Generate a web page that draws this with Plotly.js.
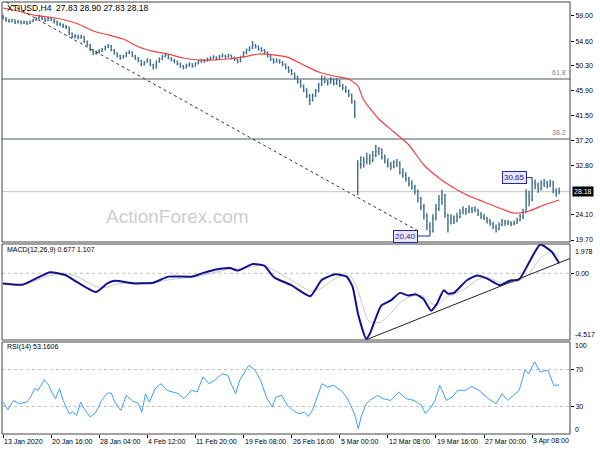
<!DOCTYPE html>
<html>
<head>
<meta charset="utf-8">
<script src="https://cdn.plot.ly/plotly-3.0.1.min.js"></script>
<style>html,body{margin:0;padding:0;background:#fff;}#chart{width:600px;height:450px;}</style>
</head>
<body>
<div id="chart"></div>
<script>
// ---------- DATA ----------
const symbolTitle = "XTIUSD,H4  27.83 28.90 27.83 28.18";
const dateIdx = [0,16,32,48,64,80,96,112,128,144,160,176];
const dateLabels = ["13 Jan 2020","20 Jan 16:00","28 Jan 04:00","4 Feb 12:00","11 Feb 20:00","19 Feb 08:00","26 Feb 16:00","5 Mar 00:00","12 Mar 08:00","19 Mar 16:00","27 Mar 00:00","3 Apr 08:00"];

const openP = [58.9,58.6,58.2,58.0,58.3,57.9,58.1,57.8,58.0,57.7,
58.0,58.3,58.6,58.9,58.5,58.2,58.6,58.4,58.0,57.6,
57.5,57.2,57.0,55.9,55.4,55.5,55.2,55.4,54.5,54.0,
53.0,52.4,52.6,52.9,53.1,53.6,53.8,53.0,52.5,52.0,
51.6,51.9,52.5,52.7,52.0,51.6,51.2,50.5,50.9,51.3,
50.4,49.9,51.0,51.4,51.9,52.1,51.6,51.3,51.0,50.6,
50.2,49.9,50.3,50.6,50.2,50.7,51.0,51.2,51.1,51.4,
51.6,51.8,51.5,51.9,52.0,51.8,52.1,51.7,51.4,51.0,
51.8,52.5,53.0,53.4,53.9,53.6,53.2,53.0,52.6,52.0,
51.4,51.0,51.2,50.9,50.5,50.0,49.4,48.9,48.2,47.5,
46.8,46.0,45.0,44.2,45.0,45.8,46.9,48.0,47.6,47.3,
47.8,47.1,47.6,46.8,46.4,45.9,45.2,44.0,31.2,33.0,
33.0,33.5,34.0,33.6,34.5,35.2,35.6,34.2,33.5,33.0,
32.6,33.3,33.4,31.5,31.0,30.4,29.6,29.0,28.2,27.0,
25.5,24.0,22.0,21.2,23.5,25.2,26.8,27.5,24.0,22.8,
23.5,23.0,23.8,24.5,25.0,24.6,25.2,24.9,25.0,24.2,
23.8,23.5,23.0,22.6,22.0,21.6,22.4,23.0,22.6,22.8,
22.5,22.7,23.2,23.8,24.6,27.5,26.8,29.8,29.3,28.6,
29.6,29.8,29.2,29.9,28.4,27.83];
const highP = [59.2,58.8,58.5,58.5,58.4,58.3,58.2,58.2,58.1,58.2,
58.5,58.8,59.2,59.0,58.7,58.9,58.8,58.5,58.2,57.9,
57.7,57.4,57.1,56.1,55.8,55.7,55.7,55.5,54.7,54.1,
53.2,52.9,53.2,53.4,53.8,54.1,53.9,53.2,52.6,52.2,
52.2,52.7,53.0,52.8,52.2,51.8,51.3,51.1,51.6,51.4,
50.6,51.2,51.7,52.2,52.4,52.2,51.8,51.5,51.2,50.8,
50.4,50.6,50.9,50.7,50.9,51.3,51.5,51.4,51.7,51.9,
52.1,51.9,52.2,52.4,52.2,52.4,52.2,51.9,51.5,52.0,
52.8,53.3,53.7,54.6,54.1,53.8,53.5,53.2,52.8,52.2,
51.6,51.6,51.4,51.1,50.7,50.2,49.7,49.1,48.5,47.8,
47.0,46.3,45.3,45.4,46.2,47.3,48.6,48.4,47.8,48.3,
48.0,48.1,47.8,47.1,46.7,46.1,45.4,44.2,33.7,34.4,
34.3,35.0,34.8,35.3,36.4,36.0,35.8,34.7,34.0,33.4,
33.7,33.9,33.5,32.3,31.6,30.8,30.2,29.4,28.5,27.3,
26.0,24.4,22.8,24.2,26.0,27.6,28.5,27.8,24.3,24.2,
24.0,24.5,25.1,25.6,25.3,25.8,25.5,25.6,25.2,24.6,
24.3,23.8,23.4,22.9,22.4,22.8,23.4,23.2,23.2,23.0,
23.1,23.6,24.3,25.2,28.6,28.4,30.65,30.3,29.8,30.2,
30.4,30.1,30.3,30.1,28.8,28.90];
const lowP = [58.4,58.0,57.8,57.9,57.6,57.7,57.5,57.6,57.4,57.6,
57.9,58.1,58.4,58.3,57.9,58.1,58.1,57.7,57.3,57.2,
56.9,56.7,55.6,55.1,55.1,54.9,55.0,54.2,53.7,52.8,
52.1,52.2,52.4,52.7,53.0,53.4,52.8,52.2,51.7,51.3,
51.5,51.8,52.3,51.8,51.3,50.9,50.2,50.3,50.8,50.2,
49.6,49.8,50.8,51.3,51.7,51.4,51.0,50.7,50.3,49.9,
49.6,49.8,50.1,49.9,50.1,50.5,50.8,50.8,51.0,51.2,
51.4,51.2,51.4,51.7,51.5,51.7,51.4,51.1,50.7,50.9,
51.7,52.3,52.8,53.2,53.3,52.9,52.7,52.3,51.7,51.1,
50.6,50.8,50.6,50.2,49.6,49.0,48.6,47.9,47.1,46.4,
45.6,44.6,43.4,44.0,44.8,45.6,46.7,47.2,46.8,47.1,
46.8,46.9,46.5,46.0,45.5,44.8,43.6,41.1,27.6,32.2,
32.4,33.0,32.9,33.4,34.2,34.6,33.8,33.1,32.4,32.0,
32.3,32.5,31.2,30.6,29.9,29.1,28.5,27.7,26.3,24.9,
23.3,21.4,20.4,21.0,23.1,24.8,25.9,23.6,21.0,22.4,
22.5,22.8,23.5,24.2,24.1,24.4,24.4,24.6,23.9,23.4,
23.2,22.6,22.2,21.6,21.0,21.4,22.1,22.2,22.3,22.1,
22.3,22.5,23.0,23.4,24.4,25.6,26.5,28.6,28.0,28.4,
29.0,28.8,29.0,27.9,27.3,27.83];
const closeP = [58.6,58.2,58.0,58.3,57.9,58.1,57.8,58.0,57.7,58.0,
58.3,58.6,58.9,58.5,58.2,58.6,58.4,58.0,57.6,57.5,
57.2,57.0,55.9,55.4,55.5,55.2,55.4,54.5,54.0,53.0,
52.4,52.6,52.9,53.1,53.6,53.8,53.0,52.5,52.0,51.6,
51.9,52.5,52.7,52.0,51.6,51.2,50.5,50.9,51.3,50.4,
49.9,51.0,51.4,51.9,52.1,51.6,51.3,51.0,50.6,50.2,
49.9,50.3,50.6,50.2,50.7,51.0,51.2,51.1,51.4,51.6,
51.8,51.5,51.9,52.0,51.8,52.1,51.7,51.4,51.0,51.8,
52.5,53.0,53.4,53.9,53.6,53.2,53.0,52.6,52.0,51.4,
51.0,51.2,50.9,50.5,50.0,49.4,48.9,48.2,47.5,46.8,
46.0,45.0,44.2,45.0,45.8,46.9,48.0,47.6,47.3,47.8,
47.1,47.6,46.8,46.4,45.9,45.2,44.0,41.6,33.0,33.0,
33.5,34.0,33.6,34.5,35.2,35.6,34.2,33.5,33.0,32.6,
33.3,33.4,31.5,31.0,30.4,29.6,29.0,28.2,27.0,25.5,
24.0,22.0,21.2,23.5,25.2,26.8,27.5,24.0,22.8,23.5,
23.0,23.8,24.5,25.0,24.6,25.2,24.9,25.0,24.2,23.8,
23.5,23.0,22.6,22.0,21.6,22.4,23.0,22.6,22.8,22.5,
22.7,23.2,23.8,24.6,27.5,26.8,29.8,29.3,28.6,29.6,
29.8,29.2,29.9,28.4,27.9,28.18];

const maIdx = [0,5,10,15,20,25,30,35,40,45,50,55,60,65,70,75,80,85,90,95,100,105,110,115,118,120,125,130,135,140,145,150,155,160,165,170,175,180,185];
const maVal = [60.4,59.87,59.17,58.82,58.38,57.6,56.37,55.67,54.96,53.6,52.8,52.3,51.63,51.28,51.28,51.45,51.8,52.33,52.16,51.7,50.4,49.17,48.47,47.95,46.72,44.26,40.93,38.65,36.37,32.86,30.58,28.82,27.42,26.37,25.31,24.44,24.79,25.84,26.72];

const lastPrice = 28.18;
const fibNames = ["61.8","38.2"];
const fibPrices = [47.94,37.42];
const trendX = [1.1,138.7];
const trendY = [61.45,21.1];

const macdIdx = [0,6.7,15.6,20.7,24.5,30.9,34.7,37.2,43.6,50,55,62.7,65.3,70.4,75.5,78,83.1,86.9,90.2,95.9,102.2,106,110.5,114.3,116.3,118.1,120.8,122,125.8,129,132,134.7,137.3,139.8,142.4,144.3,146.6,148,150,154.4,157.7,160.9,165.3,168.5,171.7,174.9,178.7,182.5,185];
const macdVal = [-0.69,-0.76,0.07,-0.12,-0.58,-1.27,-0.69,-0.51,-0.69,-0.64,-0.23,-0.23,-0.07,0.23,0.35,0.18,0.62,0.51,-0.28,-0.81,-1.56,-0.46,-0.07,-0.23,-0.92,-2.76,-4.45,-4.1,-2.19,-1.84,-1.33,-1.5,-1.43,-1.73,-2.53,-2.07,-1.15,-1.38,-1.33,-0.46,-0.16,-0.35,-0.81,-0.51,-0.41,0.69,1.95,1.45,0.677];
const sigVal = [-0.75,-0.78,-0.15,0.0,-0.2,-0.9,-0.95,-0.75,-0.62,-0.65,-0.45,-0.27,-0.2,0.05,0.28,0.3,0.45,0.55,0.2,-0.45,-1.2,-1.0,-0.35,-0.15,-0.35,-1.2,-2.9,-3.3,-3.3,-2.7,-2.0,-1.65,-1.5,-1.55,-2.0,-2.2,-1.75,-1.55,-1.45,-0.95,-0.45,-0.3,-0.6,-0.65,-0.5,-0.05,1.0,1.5,1.107];
const macdTrendX = [120.8,188.6];
const macdTrendY = [-4.5,1.0];
const macdMax = 1.978, macdMin = -4.517;

const rsiIdx = [0,1.6,3.5,5.4,7.9,9.2,10.5,11.7,13.7,14.9,16.2,17.5,18.8,20,22,23.2,24.5,25.8,27,29,30.9,32.8,34.7,36,37.2,39.2,41,43,44.9,46.2,47.4,48.7,50.6,52.6,54.5,56.4,58.3,60.2,62.7,64.6,66.5,68.5,70.4,72.9,74.8,76.1,77.4,78.7,81.8,83.8,85.7,87.6,89.5,90.8,92.7,94.6,96.5,98.4,100.3,101.6,102.9,104.1,106.1,108,109.9,112.4,114.3,115.6,116.9,118.2,119.1,120.8,122,124.6,126.4,129,131.6,134.1,136.7,139.2,140.5,142.4,143.7,145.3,147.5,149.4,151.3,153.9,155.8,158.3,161.5,164,166,167.9,169.8,171.7,173.6,174.9,176.8,178.7,181.3,183.2,185];
const rsiVal = [34.7,26.4,36.5,32.9,34.7,40.2,49.3,47.5,59.1,54.7,45.6,38.4,49.3,36.5,22,23.8,20.2,34.7,27.5,18.4,23.8,36.5,44.5,44.5,34.7,25.6,42,35.8,33.6,23.8,43.8,34.7,49.3,54.7,47.5,45.6,43.8,38.4,47.5,45.6,62,54.7,58.4,65.6,63.8,52.9,43.8,58.4,74.7,69.3,58.4,40.2,29.3,40.2,42,31.1,25.6,22,23.8,19.1,25.6,36.5,54.7,51.1,52.9,47.5,40.2,31.1,22,5.6,18.4,32.9,36.5,42,38.4,36.5,45.6,38.4,36.5,31.1,22,29.3,36.5,52.9,36.5,40.2,47.5,47.5,51.8,47.5,38.4,32.9,43.8,36.5,42,47.5,69.3,65.6,78.4,67.5,69.3,52.9,53.16];
const rsiLevels = [70,30];

// ---------- BUILD ----------
const barIdx = closeP.map((_, i) => i);
const FONT = "Liberation Sans, Arial, sans-serif";
const W = 600, H = 450;
const px = v => v / W, py = v => 1 - v / H;

let lowI = 0; lowP.forEach((v, i) => { if (v < lowP[lowI]) lowI = i; });
let hiI = 150; for (let i = 150; i < highP.length; i++) if (highP[i] > highP[hiI]) hiI = i;

const barColor = '#3e6f8e';
const traces = [
  {type:'ohlc', x:barIdx, open:openP, high:highP, low:lowP, close:closeP,
   xaxis:'x', yaxis:'y', tickwidth:0.3,
   increasing:{line:{color:barColor, width:1.4}}, decreasing:{line:{color:barColor, width:1.4}},
   hoverinfo:'skip'},
  {type:'scatter', mode:'lines', x:maIdx, y:maVal, xaxis:'x', yaxis:'y',
   line:{color:'#f04040', width:1.2, shape:'spline', smoothing:0.6}, hoverinfo:'skip'},
  {type:'scatter', mode:'lines', x:trendX, y:trendY, xaxis:'x', yaxis:'y',
   line:{color:'#333', width:1, dash:'3px,3px'}, hoverinfo:'skip'},
  {type:'scatter', mode:'lines', x:macdIdx, y:sigVal, xaxis:'x', yaxis:'y2',
   line:{color:'#c8c8c8', width:1, shape:'spline', smoothing:0.5}, hoverinfo:'skip'},
  {type:'scatter', mode:'lines', x:macdIdx, y:macdVal, xaxis:'x', yaxis:'y2',
   line:{color:'#12128c', width:2, shape:'spline', smoothing:0.5}, hoverinfo:'skip'},
  {type:'scatter', mode:'lines', x:macdTrendX, y:macdTrendY, xaxis:'x', yaxis:'y2',
   line:{color:'#222', width:1}, hoverinfo:'skip'},
  {type:'scatter', mode:'lines', x:rsiIdx, y:rsiVal, xaxis:'x', yaxis:'y3',
   line:{color:'#3d9cff', width:1}, hoverinfo:'skip'}
];

const mainTicks = [59.0,54.6,50.3,45.9,41.5,37.2,32.8,24.1,19.7];
const tickFont = {family:FONT, size:7, color:'#000'};

const shapes = [];
[[2,242],[244,340],[342,434]].forEach(([t,b]) => {
  shapes.push({type:'rect', xref:'paper', yref:'paper', x0:px(2), x1:px(570), y0:py(b), y1:py(t),
    line:{color:'#444', width:1}, layer:'above'});
});
shapes.push({type:'line', xref:'paper', yref:'y', x0:px(2), x1:px(570), y0:lastPrice, y1:lastPrice,
  line:{color:'#c4c4c4', width:1}, layer:'below'});
fibPrices.forEach(p => shapes.push({type:'line', xref:'paper', yref:'y', x0:px(2), x1:px(570), y0:p, y1:p,
  line:{color:'#a3abb0', width:2}, layer:'below'}));
shapes.push({type:'line', xref:'paper', yref:'y2', x0:px(2), x1:px(570), y0:0, y1:0,
  line:{color:'#bdbdbd', width:1, dash:'3px,3px'}, layer:'below'});
rsiLevels.forEach(l => shapes.push({type:'line', xref:'paper', yref:'y3', x0:px(2), x1:px(570), y0:l, y1:l,
  line:{color:'#bdbdbd', width:1, dash:'3px,3px'}, layer:'below'}));

const ann = [];
ann.push({text:symbolTitle, xref:'paper', yref:'paper', x:px(5), y:py(8), xanchor:'left', yanchor:'middle',
  showarrow:false, font:{family:FONT, size:8.5, color:'#000'}});
ann.push({text:'ActionForex.com', xref:'paper', yref:'paper', x:px(177), y:py(216), xanchor:'center', yanchor:'middle',
  showarrow:false, font:{family:FONT, size:19, color:'#cdcdcd'}});
fibNames.forEach((n, k) => ann.push({text:n, xref:'paper', yref:'y', x:px(568), y:fibPrices[k], xanchor:'right', yanchor:'bottom',
  yshift:1, showarrow:false, font:{family:FONT, size:7, color:'#7a858b'}}));
ann.push({text:lastPrice.toFixed(2), xref:'paper', yref:'y', x:px(572), y:lastPrice, xanchor:'left', yanchor:'middle',
  showarrow:false, bgcolor:'#000', borderpad:1, font:{family:FONT, size:7, color:'#fff'}});
ann.push({text:lowP[lowI].toFixed(2), xref:'x', yref:'y', x:lowI, y:lowP[lowI], ax:-24, ay:0,
  showarrow:true, arrowhead:0, arrowwidth:1, arrowcolor:'#2a2aa0', bordercolor:'#2a2aa0', borderwidth:1, borderpad:1,
  bgcolor:'#e6e6fa', font:{family:FONT, size:8, color:'#1c1c8c'}});
ann.push({text:highP[hiI].toFixed(2), xref:'x', yref:'y', x:hiI, y:highP[hiI], ax:-18, ay:0,
  showarrow:true, arrowhead:0, arrowwidth:1, arrowcolor:'#2a2aa0', bordercolor:'#2a2aa0', borderwidth:1, borderpad:1,
  bgcolor:'#e6e6fa', font:{family:FONT, size:8, color:'#1c1c8c'}});
ann.push({text:'MACD(12,26,9) ' + macdVal[macdVal.length-1].toFixed(3) + ' ' + sigVal[sigVal.length-1].toFixed(3),
  xref:'paper', yref:'paper', x:px(5), y:py(250), xanchor:'left', yanchor:'middle', showarrow:false,
  font:{family:FONT, size:7, color:'#000'}});
ann.push({text:'RSI(14) 53.1606', xref:'paper', yref:'paper', x:px(5), y:py(347), xanchor:'left', yanchor:'middle', showarrow:false,
  font:{family:FONT, size:7, color:'#000'}});
[[macdMax.toFixed(3),251],[macdMin.toFixed(3),334],['100',345],['0',429]].forEach(([t,y]) =>
  ann.push({text:t, xref:'paper', yref:'paper', x:px(573), y:py(y), xanchor:'left', yanchor:'middle', showarrow:false,
    font:tickFont}));
dateIdx.forEach((d, k) => ann.push({text:dateLabels[k], xref:'x', yref:'paper', x:d, y:py(441), xanchor:'left', yanchor:'middle',
  xshift:-1, showarrow:false, font:tickFont}));

const yCommon = {side:'right', anchor:'x', showgrid:false, zeroline:false, showline:false,
  ticks:'outside', ticklen:3, tickcolor:'#000', tickfont:tickFont, fixedrange:true};

const layout = {
  width:W, height:H, margin:{l:0, r:0, t:0, b:0}, paper_bgcolor:'#fff', plot_bgcolor:'#fff',
  showlegend:false, dragmode:false,
  xaxis:{domain:[px(2), px(570)], range:[-0.333, 188.6], anchor:'y3', tickvals:dateIdx, ticktext:dateIdx.map(() => ''),
    ticks:'outside', ticklen:3, tickcolor:'#000', tickfont:tickFont,
    showgrid:false, zeroline:false, showline:false, rangeslider:{visible:false}, fixedrange:true},
  yaxis:Object.assign({}, yCommon, {domain:[py(242), py(2)], range:[19.35, 61.45],
    tickvals:mainTicks, ticktext:mainTicks.map(v => v.toFixed(2))}),
  yaxis2:Object.assign({}, yCommon, {domain:[py(340), py(244)], range:[macdMin, macdMax],
    tickvals:[0], ticktext:['0.00']}),
  yaxis3:Object.assign({}, yCommon, {domain:[py(434), py(342)], range:[0, 100],
    tickvals:[30,70], ticktext:['30','70']}),
  shapes:shapes, annotations:ann
};

Plotly.newPlot('chart', traces, layout, {staticPlot:true, displayModeBar:false});
</script>
</body>
</html>
